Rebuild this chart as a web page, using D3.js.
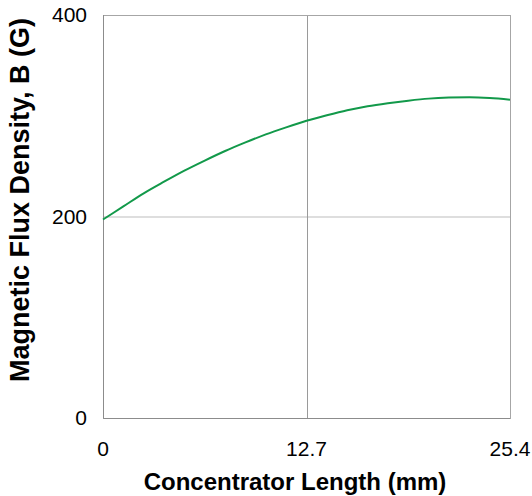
<!DOCTYPE html>
<html><head><meta charset="utf-8">
<script src="https://cdn.jsdelivr.net/npm/d3@7/dist/d3.min.js"></script>
<style>body{margin:0;background:#fff}svg{display:block}</style>
</head><body>
<svg id="c" width="532" height="496"></svg>
<script>
const lengthMM = [0,1.27,2.54,3.81,5.08,6.35,7.62,8.89,10.16,11.43,12.7,13.97,15.24,16.51,17.78,19.05,20.32,21.59,22.86,24.13,25.4];
const fluxG = [197,210,223,234.5,245.5,255.5,265,273.5,281.5,288.5,295,300.5,305.5,309.5,312.5,315,317,318,318.3,317.6,316];
const xTicks = [0,12.7,25.4];
const xTickLabels = ["0","12.7","25.4"];
const yTicks = [0,200,400];
const xTitle = "Concentrator Length (mm)";
const yTitle = "Magnetic Flux Density, B (G)";

const svg = d3.select("#c");
const L=103,R=510,T=15,B=418;
const x = d3.scaleLinear().domain([0,25.4]).range([L,R]);
const y = d3.scaleLinear().domain([0,400]).range([B,T]);
const font = "'Liberation Sans', Arial, sans-serif";

// gridlines
svg.append("g").selectAll("line").data(yTicks.filter(d=>d>0&&d<400)).join("line")
  .attr("x1",L).attr("x2",R).attr("y1",d=>y(d)+0.5).attr("y2",d=>y(d)+0.5)
  .attr("stroke","#bdbdbd").attr("stroke-width",1);
svg.append("g").selectAll("line").data(xTicks.filter(d=>d>0&&d<25.4)).join("line")
  .attr("y1",T).attr("y2",B).attr("x1",d=>Math.round(x(d))+0.5).attr("x2",d=>Math.round(x(d))+0.5)
  .attr("stroke","#9a9a9a").attr("stroke-width",1);
// frame
svg.append("rect").attr("x",L+0.5).attr("y",T+0.5).attr("width",R-L).attr("height",B-T)
  .attr("fill","none").attr("stroke","#a6a6a6").attr("stroke-width",1);
svg.append("path").attr("d",`M${L+0.5},${T}V${B+0.5}H${R}`).attr("fill","none").attr("stroke","#8c8c8c");

// line
svg.append("path").datum(d3.zip(lengthMM,fluxG))
  .attr("d",d3.line().x(d=>x(d[0])).y(d=>y(d[1])).curve(d3.curveMonotoneX))
  .attr("fill","none").attr("stroke","#12994a").attr("stroke-width",2);

// tick labels
svg.append("g").selectAll("text").data(yTicks).join("text")
  .attr("x",87).attr("y",d=>y(d)).attr("dy","0.35em").attr("text-anchor","end")
  .attr("font-family",font).attr("font-size",21).attr("fill","#000").text(d=>d);
svg.append("g").selectAll("text").data(xTicks).join("text")
  .attr("x",d=>x(d)).attr("y",456).attr("text-anchor","middle")
  .attr("font-family",font).attr("font-size",21).attr("fill","#000").text((d,i)=>xTickLabels[i]);

// titles
svg.append("text").attr("x",295).attr("y",490).attr("text-anchor","middle")
  .attr("font-family",font).attr("font-size",24).attr("font-weight","bold").text(xTitle);
svg.append("text").attr("transform",`translate(29,200) rotate(-90)`).attr("text-anchor","middle")
  .attr("font-family",font).attr("font-size",27).attr("font-weight","bold").text(yTitle);
</script>
</body></html>
